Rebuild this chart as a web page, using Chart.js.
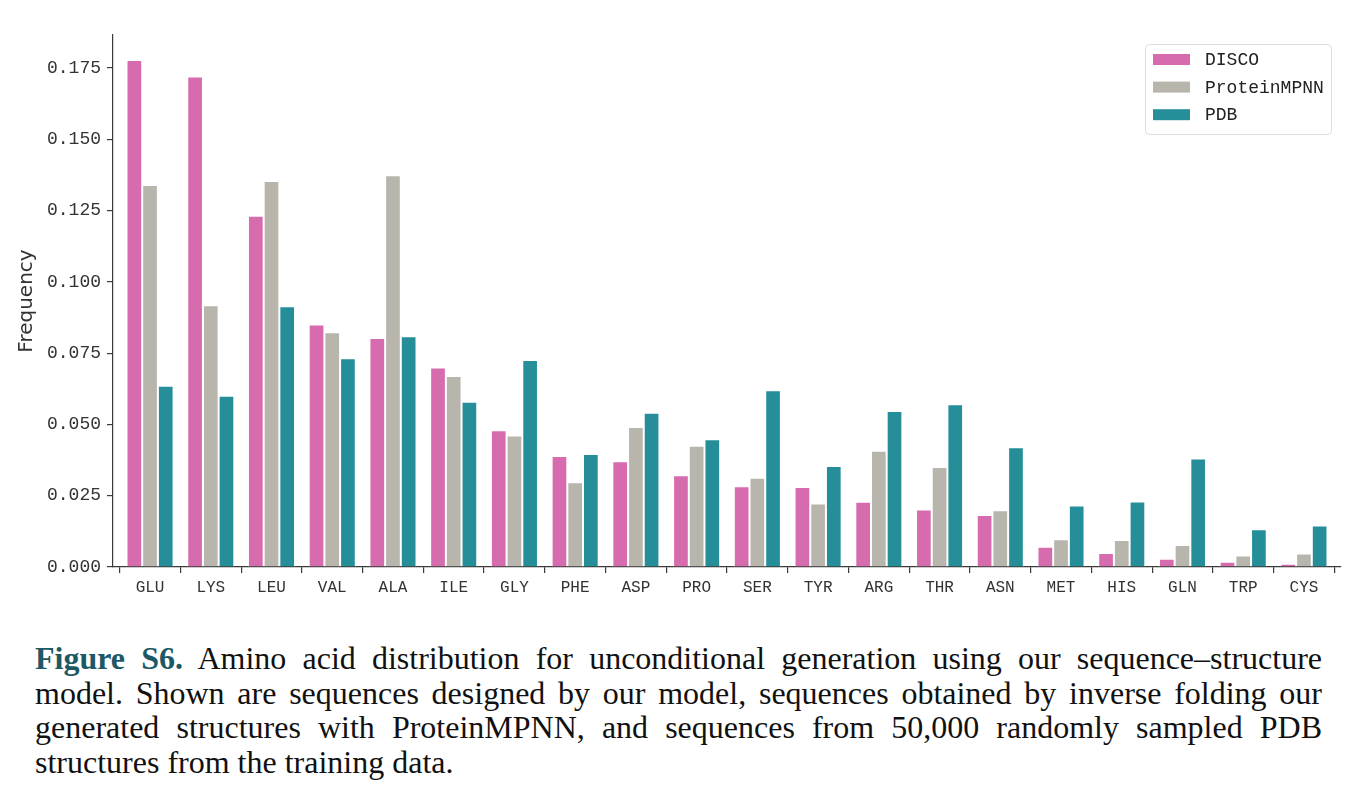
<!DOCTYPE html>
<html>
<head>
<meta charset="utf-8">
<script src="https://cdn.jsdelivr.net/npm/chart.js@4.4.1/dist/chart.umd.min.js"></script>
<style>
  html, body { margin: 0; padding: 0; background: #fff; }
  #wrap { position: relative; width: 1363px; height: 799px; }
  #chart { position: absolute; left: 0; top: 0; }
  #caption {
    position: absolute; left: 35px; top: 641px; width: 1287px;
    font-family: "Liberation Serif", "DejaVu Serif", serif;
    font-size: 32px; line-height: 34.5px; color: #111;
  }
  #caption div { text-align: justify; text-align-last: justify; white-space: nowrap; }
  #caption div.last { text-align-last: left; }
  #caption b { color: #1d5865; font-weight: bold; }
</style>
</head>
<body>
<div id="wrap">
  <canvas id="chart" width="1363" height="615"></canvas>
  <div id="caption">
    <div><b>Figure S6.</b> Amino acid distribution for unconditional generation using our sequence–structure</div>
    <div>model. Shown are sequences designed by our model, sequences obtained by inverse folding our</div>
    <div>generated structures with ProteinMPNN, and sequences from 50,000 randomly sampled PDB</div>
    <div class="last">structures from the training data.</div>
  </div>
</div>
<script>
// amino acids, sorted by DISCO frequency
var aminoAcids = ['GLU', 'LYS', 'LEU', 'VAL', 'ALA', 'ILE', 'GLY', 'PHE', 'ASP', 'PRO',
  'SER', 'TYR', 'ARG', 'THR', 'ASN', 'MET', 'HIS', 'GLN', 'TRP', 'CYS'];

var disco = [0.1778, 0.1720, 0.1232, 0.0851, 0.0803, 0.0700, 0.0480, 0.0389, 0.0371, 0.0322,
  0.0283, 0.0281, 0.0229, 0.0202, 0.0182, 0.0071, 0.0049, 0.0029, 0.0018, 0.0011];

var proteinMPNN = [0.1340, 0.0918, 0.1354, 0.0823, 0.1374, 0.0670, 0.0461, 0.0297, 0.0491, 0.0425,
  0.0313, 0.0223, 0.0408, 0.0351, 0.0199, 0.0097, 0.0095, 0.0077, 0.0040, 0.0047];

var pdb = [0.0636, 0.0601, 0.0915, 0.0732, 0.0809, 0.0580, 0.0726, 0.0396, 0.0541, 0.0448,
  0.0620, 0.0354, 0.0547, 0.0571, 0.0420, 0.0216, 0.0230, 0.0381, 0.0132, 0.0146];

var seriesNames = ['DISCO', 'ProteinMPNN', 'PDB'];
var seriesColors = ['#d66bae', '#b8b5ac', '#258e99'];
var yTicks = [0, 0.025, 0.05, 0.075, 0.1, 0.125, 0.15, 0.175];

var monoFamily = '"Liberation Mono", "DejaVu Sans Mono", monospace';
var axisColor = '#3a3a3a';

function toPoints(values) {
  return values.map(function (v, i) { return { x: i, y: v }; });
}

// legend box drawn inside the top right corner, like matplotlib
var boxLegend = {
  id: 'boxLegend',
  afterDraw: function (chart) {
    var ctx = chart.ctx;
    var area = chart.chartArea;
    var w = 186, h = 90;
    var x = area.right - 10 - w, y = area.top + 9;
    ctx.save();
    ctx.fillStyle = 'rgba(255,255,255,0.85)';
    ctx.strokeStyle = '#dddddd';
    ctx.lineWidth = 1;
    ctx.beginPath();
    ctx.roundRect(x + 0.5, y + 0.5, w, h, 4);
    ctx.fill();
    ctx.stroke();
    ctx.font = '18px ' + monoFamily;
    ctx.textBaseline = 'middle';
    chart.data.datasets.forEach(function (ds, i) {
      var cy = y + 15.5 + i * 27.6;
      ctx.fillStyle = ds.backgroundColor;
      ctx.fillRect(x + 8, cy - 5.5, 37, 11);
      ctx.fillStyle = '#222';
      ctx.fillText(ds.label, x + 60, cy + 1);
    });
    ctx.restore();
  }
};

var datasets = [disco, proteinMPNN, pdb].map(function (vals, i) {
  return {
    label: seriesNames[i],
    data: toPoints(vals),
    backgroundColor: seriesColors[i],
    borderColor: 'rgba(255,255,255,0.7)',
    borderWidth: 1,
    categoryPercentage: 0.775,
    barPercentage: 1.0,
  };
});

new Chart(document.getElementById('chart'), {
  type: 'bar',
  data: { datasets: datasets },
  options: {
    responsive: false,
    animation: false,
    layout: { padding: { left: 0, right: 22, top: 35, bottom: 0 } },
    plugins: {
      legend: { display: false },
      tooltip: { enabled: false },
    },
    scales: {
      x: {
        type: 'linear',
        min: -0.61,
        max: 19.61,
        offset: false,
        afterFit: function (scale) { scale.height = 48; },
        afterBuildTicks: function (scale) {
          scale.ticks = aminoAcids.map(function (a, i) { return { value: i }; });
        },
        grid: { drawOnChartArea: false, drawTicks: true, tickLength: 6, color: axisColor, lineWidth: 1.2 },
        border: { display: true, color: axisColor, width: 1.2 },
        ticks: {
          autoSkip: false,
          maxRotation: 0,
          padding: 5,
          color: '#333',
          font: { family: monoFamily, size: 16 },
          callback: function (v) { return aminoAcids[v]; }
        }
      },
      y: {
        min: 0,
        max: 0.1866,
        afterFit: function (scale) { scale.width = 113; },
        afterBuildTicks: function (scale) {
          scale.ticks = yTicks.map(function (v) { return { value: v }; });
        },
        grid: { drawOnChartArea: false, drawTicks: true, tickLength: 6, color: axisColor, lineWidth: 1.2 },
        border: { display: true, color: axisColor, width: 1.2 },
        title: {
          display: true,
          text: 'Frequency',
          color: '#333',
          font: { family: '"DejaVu Sans", sans-serif', size: 20 },
          padding: { top: 15, bottom: 0 }
        },
        ticks: {
          padding: 6,
          color: '#333',
          font: { family: monoFamily, size: 18 },
          callback: function (v) { return v.toFixed(3); }
        }
      }
    }
  },
  plugins: [boxLegend]
});
</script>
</body>
</html>
